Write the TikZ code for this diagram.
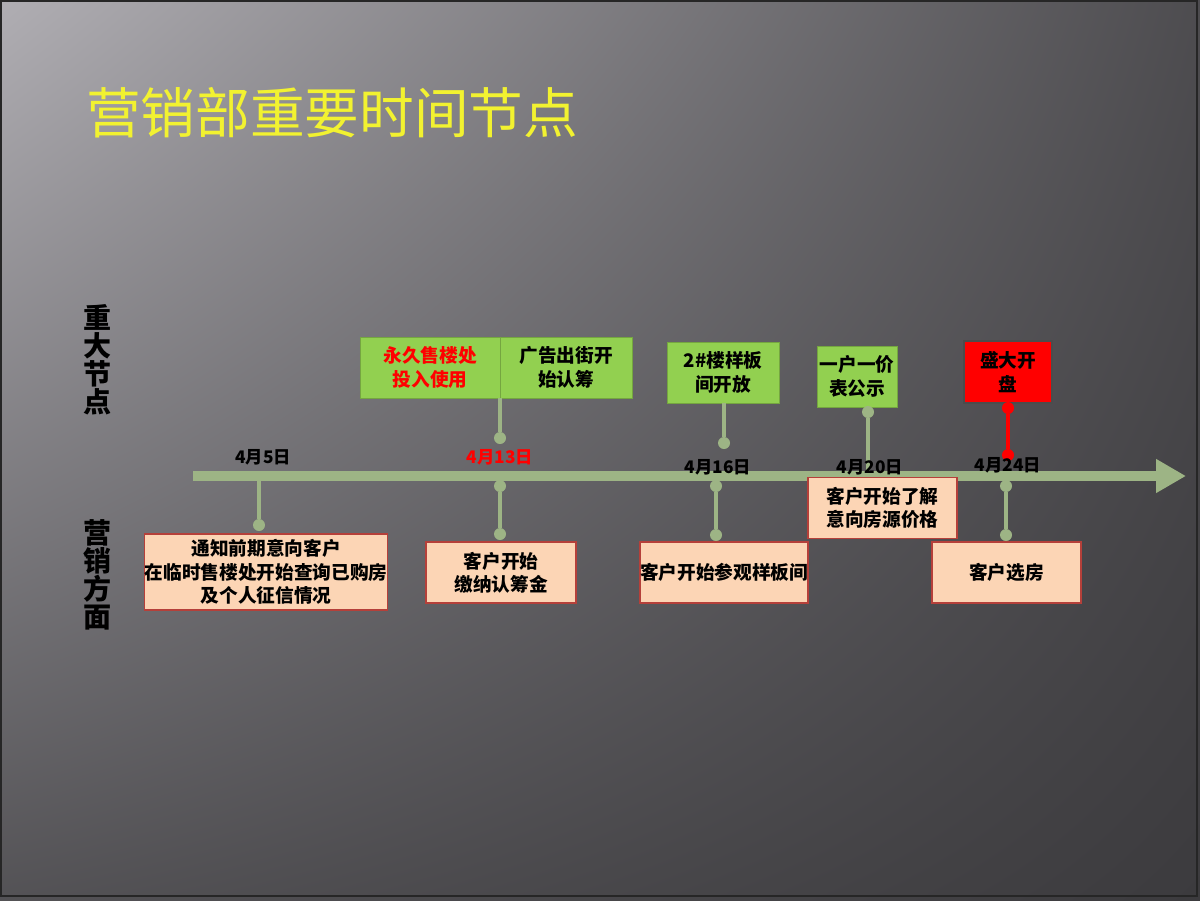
\documentclass[tikz,border=0pt]{standalone}
\usepackage{fontspec}
\newfontfamily\cjk{Noto Sans CJK SC}
\usetikzlibrary{arrows.meta,shadings}
\definecolor{bgA}{HTML}{B0AEB3}
\definecolor{bgB}{HTML}{3C3B3E}
\definecolor{tl}{HTML}{9DB485}
\definecolor{gbox}{HTML}{92D050}
\definecolor{obox}{HTML}{FCD5B5}
\definecolor{obrd}{HTML}{B5403A}
\definecolor{ttl}{HTML}{F2F230}
\tikzset{
 x=0.75pt,y=-0.75pt,
 txt/.style={font=\cjk\bfseries\fontsize{14}{17.5}\selectfont,align=center,inner sep=0pt},
 gnode/.style={txt,fill=gbox,draw=gbox!80!black,line width=0.6pt,minimum height=45.75pt},
 onode/.style={txt,fill=obox,draw=obrd,line width=0.9pt,minimum height=45.75pt},
 dt/.style={font=\cjk\bfseries\fontsize{13}{14}\selectfont,inner sep=0pt},
 conn/.style={draw=tl,line width=3pt},
 dot/.style={circle,fill=tl,inner sep=0pt,minimum size=9pt},
 rdot/.style={circle,fill=red,inner sep=0pt,minimum size=9pt},
 side/.style={font=\cjk\bfseries\fontsize{21}{21}\selectfont,align=center,inner sep=0pt,text=black}
}
\begin{document}
\begin{tikzpicture}
\useasboundingbox (0,0) rectangle (1200,900);
\shade[upper left=bgA,upper right=bgB!85!bgA,lower left=bgB!80!bgA,lower right=bgB] (0,0) rectangle (1200,900);
\draw[black!85,line width=2pt] (1,1) rectangle (1197,896);
\node[anchor=west,text=ttl,font=\cjk\fontsize{41}{46}\selectfont,inner sep=0pt] (title) at (86,113) {营销部重要时间节点};
\node[side] (s1) at (97,360) {重\\大\\节\\点};
\node[side] (s2) at (97,575) {营\\销\\方\\面};
% timeline
\coordinate (t0) at (193,476);
\coordinate (t1) at (1186,476);
\draw[tl,line width=7.5pt,-{Triangle[length=22.5pt,width=24pt]}] (t0) -- (t1);
% top boxes
\node[gnode,minimum width=105pt,text=red] (g1) at (430,367.5) {永久售楼处\\投入使用};
\node[gnode,minimum width=99pt] (g2) at (566,367.5) {广告出街开\\始认筹};
\node[gnode,minimum width=84pt] (g3) at (723,372.5) {2\#楼样板\\间开放};
\node[gnode,minimum width=60pt] (g4) at (857,376.5) {一户一价\\表公示};
\node[txt,fill=red,draw=black!70,line width=0.9pt,minimum width=66pt,minimum height=46.5pt] (g5) at (1008,372) {盛大开\\盘};
% top connectors
\coordinate (a2) at (500,398);
\node[dot] (p2) at (500,438) {};
\draw[conn] (a2) -- (p2);
\coordinate (a3) at (724,403);
\node[dot] (p3) at (724,443) {};
\draw[conn] (a3) -- (p3);
\node[dot] (p4) at (868,412) {};
\coordinate (b4) at (868,476);
\draw[conn] (p4) -- (b4);
\node[rdot] (q5) at (1008,408) {};
\node[rdot] (r5) at (1008,455) {};
\draw[red,line width=3pt] (q5) -- (r5);
% bottom boxes
\node[onode,minimum width=153pt,minimum height=57pt] (o1) at (266,572) {通知前期意向客户\\在临时售楼处开始查询已购房\\及个人征信情况};
\node[onode,minimum width=112.5pt] (o2) at (501,572.5) {客户开始\\缴纳认筹金};
\node[onode,minimum width=124.5pt] (o3) at (724,572.5) {客户开始参观样板间};
\node[onode,minimum width=111.75pt] (o4) at (882.5,508) {客户开始了解\\意向房源价格};
\node[onode,minimum width=111.75pt] (o5) at (1006.5,572.5) {客户选房};
% bottom connectors
\coordinate (c1) at (259,476);
\node[dot] (e1) at (259,525) {};
\draw[conn] (c1) -- (e1);
\node[dot] (c2) at (500,486) {};
\node[dot] (e2) at (500,534) {};
\draw[conn] (c2) -- (e2);
\node[dot] (c3) at (716,486) {};
\node[dot] (e3) at (716,535) {};
\draw[conn] (c3) -- (e3);
\node[dot] (c5) at (1006,486) {};
\node[dot] (e5) at (1006,535) {};
\draw[conn] (c5) -- (e5);
% dates
\node[dt] (d1) at (263,457) {4月5日};
\node[dt,text=red] (d2) at (500,457) {4月13日};
\node[dt] (d3) at (718,467) {4月16日};
\node[dt] (d4) at (870,467) {4月20日};
\node[dt] (d5) at (1008,465) {4月24日};
\end{tikzpicture}
\end{document}
